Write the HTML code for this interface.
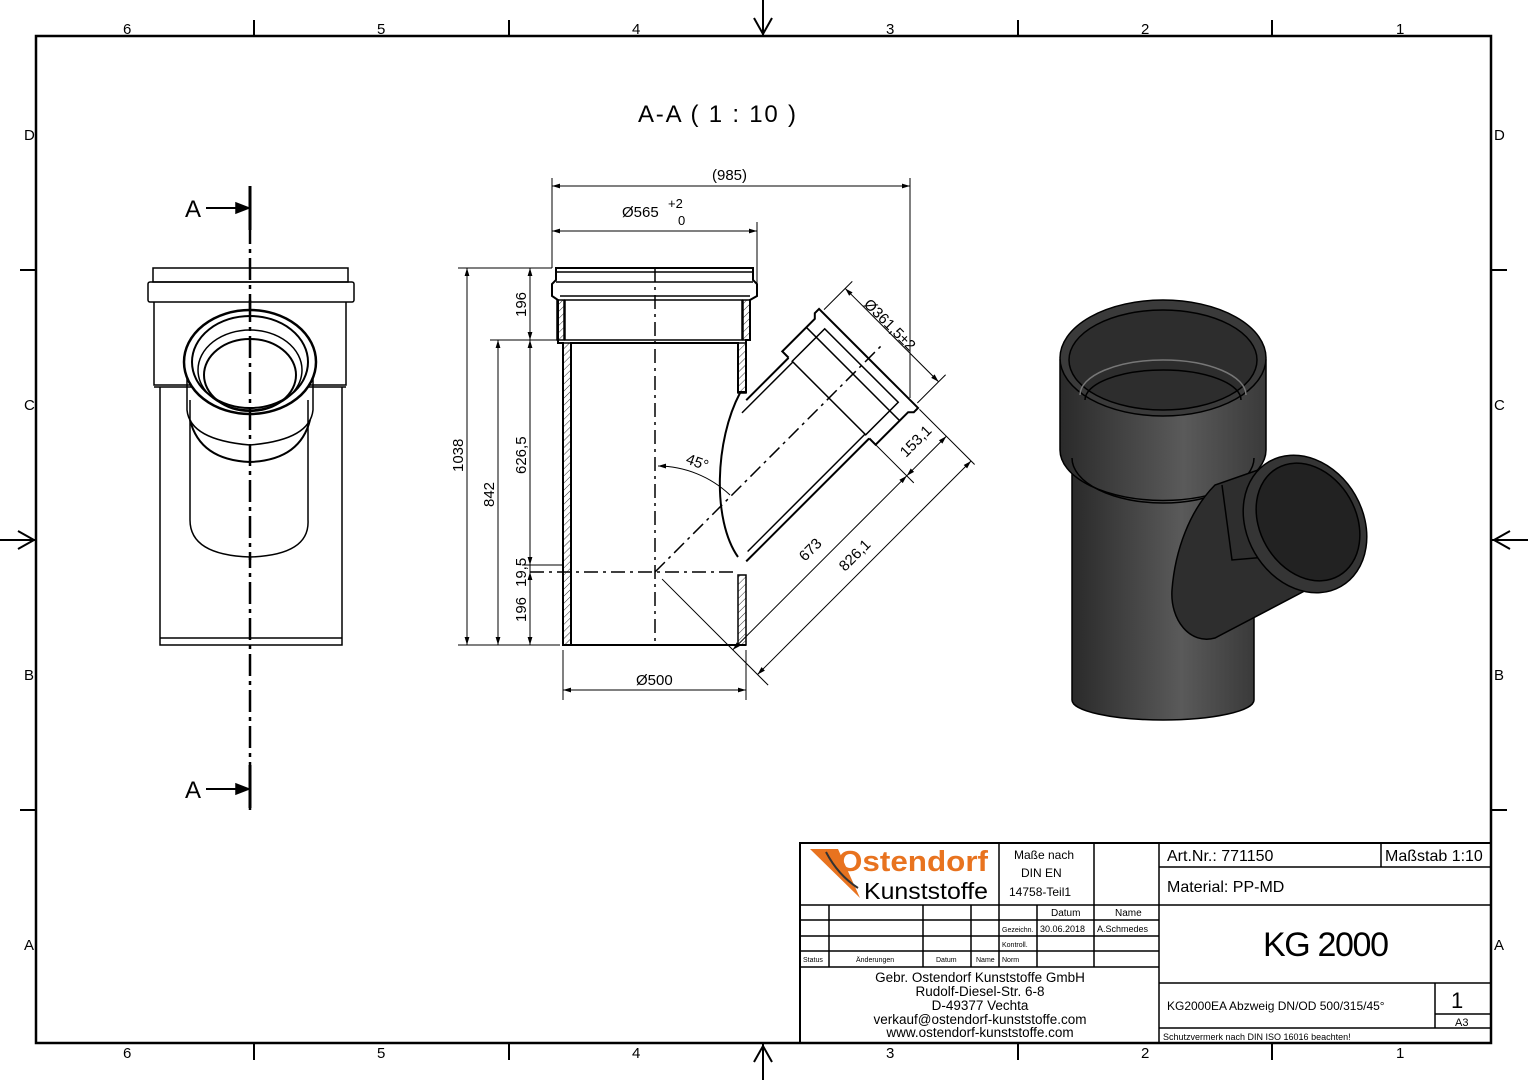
<!DOCTYPE html>
<html><head><meta charset="utf-8"><style>
html,body{margin:0;padding:0;background:#fff}
svg{display:block}
text{font-family:"Liberation Sans",sans-serif;fill:#000}
</style></head><body>
<svg width="1528" height="1080" viewBox="0 0 1528 1080" xmlns="http://www.w3.org/2000/svg">
<defs>
<pattern id="h" width="5" height="5" patternUnits="userSpaceOnUse" patternTransform="rotate(45)"><line x1="0" y1="0" x2="0" y2="5" stroke="#000" stroke-width="0.8"/></pattern>
<linearGradient id="g" x1="0" x2="1"><stop offset="0" stop-color="#2a2a2a"/><stop offset="0.6" stop-color="#5a5a5a"/><stop offset="1" stop-color="#3a3a3a"/></linearGradient>
<marker id="ar" viewBox="0 0 10 10" refX="10" refY="5" markerWidth="10" markerHeight="8" orient="auto-start-reverse" markerUnits="userSpaceOnUse"><path d="M0,2 L10,5 L0,8 z" fill="#000"/></marker>
</defs>
<g stroke="#000" fill="none">
<rect x="36" y="36" width="1455" height="1007" stroke-width="2.5"/>
<g stroke-width="2">
<line x1="254" y1="20" x2="254" y2="36"/><line x1="509" y1="20" x2="509" y2="36"/><line x1="1018" y1="20" x2="1018" y2="36"/><line x1="1272" y1="20" x2="1272" y2="36"/>
<line x1="254" y1="1043" x2="254" y2="1060"/><line x1="509" y1="1043" x2="509" y2="1060"/><line x1="1018" y1="1043" x2="1018" y2="1060"/><line x1="1272" y1="1043" x2="1272" y2="1060"/>
<line x1="20" y1="270" x2="36" y2="270"/><line x1="20" y1="810" x2="36" y2="810"/><line x1="1491" y1="270" x2="1507" y2="270"/><line x1="1491" y1="810" x2="1507" y2="810"/>
<line x1="763" y1="0" x2="763" y2="36"/><path d="M754,18 L763,34 L772,18"/>
<line x1="763" y1="1043" x2="763" y2="1080"/><path d="M754,1062 L763,1046 L772,1062"/>
<line x1="0" y1="540" x2="36" y2="540"/><path d="M18,531 L34,540 L18,549"/>
<line x1="1491" y1="540" x2="1528" y2="540"/><path d="M1510,531 L1494,540 L1510,549"/>
</g>
</g>
<g font-size="15">
<text x="123" y="34">6</text><text x="377" y="34">5</text><text x="632" y="34">4</text><text x="886" y="34">3</text><text x="1141" y="34">2</text><text x="1396" y="34">1</text>
<text x="123" y="1058">6</text><text x="377" y="1058">5</text><text x="632" y="1058">4</text><text x="886" y="1058">3</text><text x="1141" y="1058">2</text><text x="1396" y="1058">1</text>
<text x="24" y="140">D</text><text x="24" y="410">C</text><text x="24" y="680">B</text><text x="24" y="950">A</text>
<text x="1494" y="140">D</text><text x="1494" y="410">C</text><text x="1494" y="680">B</text><text x="1494" y="950">A</text>
</g>
<text x="638" y="122" font-size="24" textLength="158">A-A ( 1 : 10 )</text>

<!-- left view -->
<g stroke="#000" fill="none" stroke-width="1.5">
<line x1="250" y1="186" x2="250" y2="810" stroke-width="2.5" stroke-dasharray="22,5,4,5"/>
<line x1="250" y1="186" x2="250" y2="230" stroke-width="3"/><line x1="250" y1="765" x2="250" y2="808" stroke-width="3"/>
<line x1="206" y1="208" x2="248" y2="208" stroke-width="2"/><path d="M236,203 L249,208 L236,213 z" fill="#000"/>
<line x1="206" y1="789" x2="248" y2="789" stroke-width="2"/><path d="M236,784 L249,789 L236,794 z" fill="#000"/>
<path d="M153,268 H348 V282 H153 Z"/>
<rect x="148" y="282" width="206" height="20" rx="2"/>
<path d="M154,302 V385 H342 M346,302 V385 H342"/>
<path d="M160,387 V645 H342 V387"/><line x1="160" y1="638" x2="342" y2="638"/>
<line x1="154" y1="387" x2="346" y2="387"/>
<path d="M190,400 V520 Q190,555 250,557 Q310,555 308,520 V400" fill="#fff"/>
<path d="M187,370 V410 Q190,440 250,445 Q310,440 313,410 V370"/>
<path d="M190,420 Q200,460 250,462 Q300,460 310,420" stroke-width="2"/>
<ellipse cx="250" cy="362" rx="66" ry="52" stroke-width="2.5" fill="#fff"/>
<ellipse cx="250" cy="362" rx="58" ry="46" stroke-width="2"/>
<ellipse cx="250" cy="370" rx="52" ry="40" stroke-width="1.5"/>
<ellipse cx="250" cy="375" rx="46" ry="36" stroke-width="2"/>
<line x1="250" y1="300" x2="250" y2="560" stroke-dasharray="22,5,4,5" stroke-width="2.5"/>
</g>
<text x="185" y="217" font-size="24">A</text><text x="185" y="798" font-size="24">A</text>

<!-- section view -->
<g stroke="#000" fill="none" stroke-width="1.5">
<rect x="563" y="343" width="8" height="302" fill="url(#h)"/>
<rect x="738" y="575" width="8" height="70" fill="url(#h)"/>
<rect x="738" y="343" width="8" height="50" fill="url(#h)"/>
<rect x="557" y="300" width="7" height="40" fill="url(#h)"/>
<rect x="743" y="300" width="7" height="40" fill="url(#h)"/>
<path d="M556,268 H753 V280 L757,284 V296 L750,300 V340 H746 V392 L738,392 V343 H571 V645 H563 V343 H558 V300 L552,296 V284 L556,280 Z" stroke-width="2"/>
<path d="M556,272 H753 M556,282 H753 M560,296 H750"/>
<rect x="565" y="300" width="177" height="40" fill="#fff"/>
<line x1="563" y1="645" x2="746" y2="645" stroke-width="2"/>
<line x1="571" y1="343" x2="738" y2="343" stroke-width="2"/>
<line x1="655" y1="268" x2="655" y2="645" stroke-dasharray="14,5,3,5"/>
<line x1="530" y1="572" x2="738" y2="572" stroke-dasharray="14,5,3,5"/>
<path d="M740,393 C715,440 712,520 738,557" stroke-width="2"/>
<g transform="translate(655,572) rotate(-45)">
<line x1="72" y1="57" x2="246" y2="57" stroke-width="2"/>
<line x1="80" y1="51" x2="246" y2="51"/>
<line x1="186" y1="-57" x2="246" y2="-57" stroke-width="2"/>
<line x1="174" y1="-51" x2="246" y2="-51"/>
<path d="M246,-57 V-66 H292 L296,-70 H302 V70 H296 L292,66 H246 V57" fill="#fff" stroke-width="2"/>
<path d="M246,-52 H292 V52 H246 Z"/><line x1="280" y1="-66" x2="280" y2="66"/>
<line x1="0" y1="0" x2="320" y2="0" stroke-dasharray="14,5,3,5"/>
<line x1="0" y1="10" x2="0" y2="160" stroke-width="1"/>
<line x1="246" y1="60" x2="246" y2="120" stroke-width="1"/>
<line x1="302" y1="72" x2="302" y2="150" stroke-width="1"/>
<line x1="305" y1="-66" x2="345" y2="-66" stroke-width="1"/><line x1="305" y1="66" x2="345" y2="66" stroke-width="1"/>
<line x1="335" y1="-66" x2="335" y2="66" stroke-width="1" marker-start="url(#ar)" marker-end="url(#ar)"/>
<line x1="0" y1="110" x2="246" y2="110" stroke-width="1" marker-start="url(#ar)" marker-end="url(#ar)"/>
<line x1="246" y1="110" x2="302" y2="110" stroke-width="1" marker-start="url(#ar)" marker-end="url(#ar)"/>
<line x1="0" y1="145" x2="302" y2="145" stroke-width="1" marker-start="url(#ar)" marker-end="url(#ar)"/>
</g>
<path d="M658,466 A106,106 0 0 1 730,495" stroke-width="1" marker-start="url(#ar)"/>
<g stroke-width="1">
<line x1="458" y1="268" x2="552" y2="268"/><line x1="458" y1="645" x2="560" y2="645"/>
<line x1="490" y1="340" x2="558" y2="340"/><line x1="522" y1="565" x2="563" y2="565"/>
<line x1="467" y1="268" x2="467" y2="645" marker-start="url(#ar)" marker-end="url(#ar)"/>
<line x1="498" y1="340" x2="498" y2="645" marker-start="url(#ar)" marker-end="url(#ar)"/>
<line x1="530" y1="268" x2="530" y2="340" marker-start="url(#ar)" marker-end="url(#ar)"/>
<line x1="530" y1="340" x2="530" y2="565" marker-start="url(#ar)" marker-end="url(#ar)"/>
<line x1="530" y1="565" x2="530" y2="572"/>
<line x1="530" y1="572" x2="530" y2="645" marker-start="url(#ar)" marker-end="url(#ar)"/>
<line x1="552" y1="178" x2="552" y2="268"/><line x1="910" y1="178" x2="910" y2="398"/><line x1="757" y1="222" x2="757" y2="284"/>
<line x1="552" y1="186" x2="910" y2="186" marker-start="url(#ar)" marker-end="url(#ar)"/>
<line x1="552" y1="231" x2="757" y2="231" marker-start="url(#ar)" marker-end="url(#ar)"/>
<line x1="563" y1="650" x2="563" y2="700"/><line x1="746" y1="650" x2="746" y2="700"/>
<line x1="563" y1="690" x2="746" y2="690" marker-start="url(#ar)" marker-end="url(#ar)"/>
</g>
</g>
<g font-size="15">
<text x="712" y="180">(985)</text>
<text x="622" y="217">Ø565</text><text x="668" y="208" font-size="13">+2</text><text x="678" y="225" font-size="13">0</text>
<text x="636" y="685">Ø500</text>
<text transform="translate(463,472) rotate(-90)">1038</text>
<text transform="translate(494,507) rotate(-90)">842</text>
<text transform="translate(526,474) rotate(-90)">626,5</text>
<text transform="translate(526,317) rotate(-90)">196</text>
<text transform="translate(526,587) rotate(-90)">19,5</text>
<text transform="translate(526,622) rotate(-90)">196</text>
<text transform="translate(685,463) rotate(20)">45°</text>
<text transform="translate(805,562) rotate(-45)">673</text>
<text transform="translate(845,572) rotate(-45)">826,1</text>
<text transform="translate(906,458) rotate(-45)">153,1</text>
<text transform="translate(863,305) rotate(45)">Ø361,5±2</text>
</g>

<!-- 3D render -->
<g stroke="#000" stroke-width="1.5">
<path d="M1072,460 V700 A91,20 0 0 0 1254,700 V460 Z" fill="url(#g)"/>
<path d="M1060,360 V450 A102,50 0 0 0 1266,450 V360 Z" fill="url(#g)"/>
<path d="M1072,458 A91,45 0 0 0 1254,458" fill="none"/>
<ellipse cx="1163" cy="358" rx="103" ry="58" fill="#3a3a3a"/>
<ellipse cx="1163" cy="360" rx="94" ry="50" fill="#2d2d2d"/>
<path d="M1080,395 A83,35 0 0 1 1246,395" fill="none" stroke="#777"/>
<path d="M1085,400 A78,30 0 0 1 1241,400" fill="none"/>
<path d="M1172,590 C1170,620 1190,645 1215,638 L1335,575 L1258,470 L1215,485 C1190,510 1175,550 1172,590 Z" fill="#2e2e2e"/>
<path d="M1222,485 L1232,560 L1290,555" fill="none"/>
<ellipse cx="1305" cy="524" rx="58" ry="72" transform="rotate(-30 1305 524)" fill="#353535"/>
<ellipse cx="1308" cy="522" rx="48" ry="62" transform="rotate(-30 1308 522)" fill="#222"/>
</g>

<!-- title block -->
<g stroke="#000" fill="none">
<rect x="800" y="843" width="691" height="200" stroke-width="2"/>
<g stroke-width="1.5">
<line x1="1159" y1="843" x2="1159" y2="1043"/>
<line x1="800" y1="905" x2="1159" y2="905"/><line x1="800" y1="920" x2="1159" y2="920"/><line x1="800" y1="936" x2="1159" y2="936"/><line x1="800" y1="951" x2="1159" y2="951"/><line x1="800" y1="967" x2="1159" y2="967"/>
<line x1="829" y1="905" x2="829" y2="967"/><line x1="923" y1="905" x2="923" y2="967"/><line x1="971" y1="905" x2="971" y2="967"/><line x1="999" y1="843" x2="999" y2="967"/><line x1="1037" y1="905" x2="1037" y2="967"/><line x1="1094" y1="843" x2="1094" y2="967"/>
<line x1="1159" y1="867" x2="1491" y2="867"/><line x1="1381" y1="843" x2="1381" y2="867"/>
<line x1="1159" y1="905" x2="1491" y2="905"/><line x1="1159" y1="983" x2="1491" y2="983"/>
<line x1="1435" y1="983" x2="1435" y2="1028"/><line x1="1435" y1="1014" x2="1491" y2="1014"/>
<line x1="1159" y1="1028" x2="1491" y2="1028"/>
</g>
</g>
<path d="M810,849 L838,849 L860,898 Z" fill="#e8731f"/>
<path d="M826,852 Q838,875 858,888" stroke="#333" stroke-width="2" fill="none"/>
<text x="838" y="871" font-size="29" font-weight="bold" style="fill:#e8731f" textLength="150" lengthAdjust="spacingAndGlyphs">Ostendorf</text>
<text x="864" y="899" font-size="23" textLength="124" lengthAdjust="spacingAndGlyphs">Kunststoffe</text>
<g font-size="12">
<text x="1014" y="859">Maße nach</text><text x="1021" y="877">DIN EN</text><text x="1009" y="896">14758-Teil1</text>
<text x="1051" y="916" font-size="10">Datum</text><text x="1115" y="916" font-size="10">Name</text>
<text x="1002" y="932" font-size="7">Gezeichn.</text><text x="1040" y="932" font-size="9">30.06.2018</text><text x="1097" y="932" font-size="9">A.Schmedes</text>
<text x="1002" y="947" font-size="7">Kontroll.</text><text x="1002" y="962" font-size="7">Norm</text>
<text x="803" y="962" font-size="7">Status</text><text x="856" y="962" font-size="7">Änderungen</text><text x="936" y="962" font-size="7">Datum</text><text x="976" y="962" font-size="7">Name</text>
</g>
<g font-size="13.5" text-anchor="middle">
<text x="980" y="982">Gebr. Ostendorf Kunststoffe GmbH</text>
<text x="980" y="996">Rudolf-Diesel-Str. 6-8</text>
<text x="980" y="1010">D-49377 Vechta</text>
<text x="980" y="1024">verkauf@ostendorf-kunststoffe.com</text>
<text x="980" y="1037">www.ostendorf-kunststoffe.com</text>
</g>
<text x="1167" y="861" font-size="16">Art.Nr.: 771150</text>
<text x="1385" y="861" font-size="16">Maßstab 1:10</text>
<text x="1167" y="892" font-size="16">Material: PP-MD</text>
<text x="1263" y="956" font-size="34" textLength="126">KG 2000</text>
<text x="1167" y="1010" font-size="12">KG2000EA Abzweig DN/OD 500/315/45°</text>
<text x="1451" y="1008" font-size="22">1</text>
<text x="1455" y="1026" font-size="11">A3</text>
<text x="1163" y="1040" font-size="9">Schutzvermerk nach DIN ISO 16016 beachten!</text>
</svg>
</body></html>
